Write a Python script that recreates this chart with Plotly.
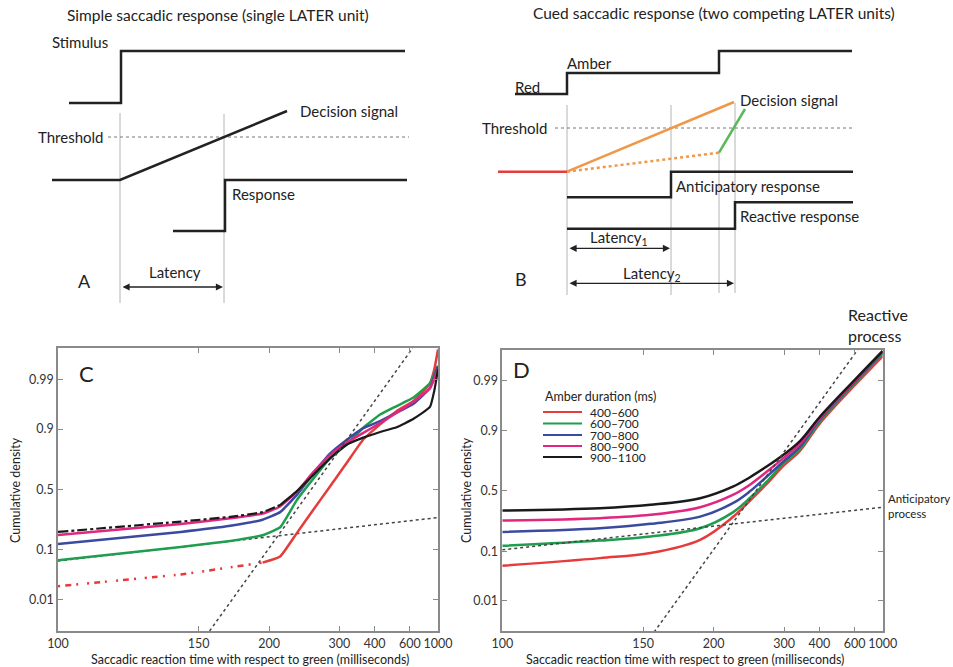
import plotly.graph_objects as go
from statistics import NormalDist

_nd = NormalDist()


def probit(ps):
    return [_nd.inv_cdf(p) for p in ps]


def recip(ts):
    return [-1.0 / t for t in ts]


W, H = 953, 667
FONT = "Lato"
INK = "#222222"

# ---------------------------------------------------------------- data
SERIES = ["400–600", "600–700", "700–800", "800–900", "900–1100"]
COLORS = ["#e53b3b", "#1f9e4f", "#3a4a9e", "#e0267f", "#1a1a1a"]

X_TICKS = [100, 150, 200, 300, 400, 600, 1000]
Y_TICKS = [0.01, 0.1, 0.5, 0.9, 0.99]

# Panel C: observed cumulative latency distributions
C_T = [100, 141, 169, 194, 211, 230, 253, 281, 316, 361, 422, 505, 633, 840, 920, 1000]
C_RED = [0.0202, 0.0359, 0.0495, 0.0606, 0.0778, 0.1762, 0.3336, 0.5259, 0.7123, 0.8554,
         0.9162, 0.9515, 0.9699, 0.9878, 0.9946, 0.9985]
C_GREEN = [0.0668, 0.1112, 0.1379, 0.1660, 0.2119, 0.4090, 0.5910, 0.7454, 0.8289, 0.9049,
           0.9441, 0.9616, 0.9744, 0.9878, 0.9929, 0.9956]
C_BLUE = [0.1238, 0.1841, 0.2206, 0.2611, 0.3156, 0.4522, 0.6331, 0.7764, 0.8531, 0.9032,
          0.9265, 0.9484, 0.9656, 0.9842, 0.9918, 0.9956]
C_MAGENTA = [0.1673, 0.2327, 0.2709, 0.3050, 0.3594, 0.4801, 0.6443, 0.7673, 0.8389, 0.8849,
             0.9207, 0.9484, 0.9686, 0.9842, 0.9906, 0.9946]
C_BLACK = [0.1841, 0.2483, 0.2810, 0.3156, 0.3707, 0.4840, 0.6217, 0.7454, 0.8289, 0.8643,
           0.8888, 0.9066, 0.9332, 0.9599, 0.9821, 0.9946]
C_SERIES = [C_RED, C_GREEN, C_BLUE, C_MAGENTA, C_BLACK]

# Panel D: model predictions
D_T = [100, 130, 154, 188, 220, 241, 267, 298, 338, 400, 600, 1000]
D_RED = [0.0557, 0.0764, 0.0934, 0.149, 0.288, 0.413, 0.556, 0.698, 0.800, 0.9207, 0.9871, 0.99781]
D_GREEN = [0.121, 0.145, 0.166, 0.213, 0.323, 0.436, 0.575, 0.716, 0.811, 0.9265, 0.9884, 0.99813]
D_BLUE = [0.191, 0.213, 0.241, 0.291, 0.395, 0.492, 0.616, 0.730, 0.824, 0.9319, 0.9893, 0.99831]
D_MAGENTA = [0.263, 0.280, 0.304, 0.363, 0.464, 0.548, 0.655, 0.753, 0.839, 0.9357, 0.9898, 0.99841]
D_BLACK = [0.337, 0.355, 0.382, 0.436, 0.534, 0.610, 0.695, 0.775, 0.853, 0.9394, 0.9904, 0.99846]
D_SERIES = [D_RED, D_GREEN, D_BLUE, D_MAGENTA, D_BLACK]

# Asymptotes of the two LATER processes (end points)
C_REACTIVE_T, C_REACTIVE_P = [156, 625], [0.00135, 0.99865]
C_ANTICIP_T, C_ANTICIP_P = [100, 1000], [0.065, 0.276]
D_REACTIVE_T, D_REACTIVE_P = [156, 633], [0.00135, 0.99865]
D_ANTICIP_T, D_ANTICIP_P = [100, 1000], [0.105, 0.363]

# ---------------------------------------------------------------- schematic geometry (page frame)
A_STIM = ([69, 121, 121, 405], [103, 103, 51, 51])
A_DECISION = ([52, 120, 287], [180, 180, 111])
A_RESPONSE = ([173, 225, 225, 407], [231, 231, 180, 180])
A_THRESH = ([108, 409], [137, 137])
A_GUIDES = [(120, 113, 303), (224, 114, 303)]

B_LIGHTS = ([515, 567, 567, 719, 719, 852], [94, 94, 73, 73, 51, 51])
B_THRESH = ([555, 853], [128, 128])
B_BASE = ([498, 567], [171.7, 171.7])
B_ANT_RISE = ([567, 734], [171.7, 102])
B_ANT_SLOW = ([567, 719], [171.7, 152.7])
B_REA_RISE = ([719, 745], [152.7, 109])
B_ANT_RESP = ([567, 671, 671, 853], [197.3, 197.3, 171.7, 171.7])
B_REA_RESP = ([567, 735, 735, 853], [228.7, 228.7, 202.3, 202.3])
B_GUIDES = [(567, 105, 295), (671, 105, 295), (719, 153, 293), (735, 103, 293)]

fig = go.Figure()


def page_line(xs, ys, color=INK, width=2.5, dash="solid"):
    fig.add_trace(go.Scatter(x=xs, y=ys, mode="lines", xaxis="x3", yaxis="y3",
                             line=dict(color=color, width=width, dash=dash),
                             hoverinfo="skip", showlegend=False))


# ---------------- panel A
for gx, g0, g1 in A_GUIDES:
    page_line([gx, gx], [g0, g1], color="#b4b4b4", width=1)
page_line(*A_THRESH, color="#777777", width=1, dash="dot")
page_line(*A_STIM)
page_line(*A_DECISION)
page_line(*A_RESPONSE)

# ---------------- panel B
for gx, g0, g1 in B_GUIDES:
    page_line([gx, gx], [g0, g1], color="#b4b4b4", width=1)
page_line(*B_THRESH, color="#777777", width=1, dash="dot")
page_line(*B_LIGHTS)
page_line(*B_ANT_SLOW, color="#f0984a", width=2.5, dash="dot")
page_line(*B_ANT_RISE, color="#f0984a", width=2.5)
page_line(*B_REA_RISE, color="#5cb85c", width=2.5)
page_line(*B_BASE, color="#e53b3b", width=2.5)
page_line(*B_ANT_RESP)
page_line(*B_REA_RESP)


# ---------------- panels C and D
def data_line(ts, ps, axes, color, width=2.5, dash="solid", shape="spline", smoothing=0.6):
    fig.add_trace(go.Scatter(x=recip(ts), y=probit(ps), mode="lines",
                             xaxis=axes[0], yaxis=axes[1],
                             line=dict(color=color, width=width, dash=dash, shape=shape,
                                       smoothing=smoothing),
                             hoverinfo="skip", showlegend=False))


C_AX, D_AX = ("x", "y"), ("x2", "y2")

# Panel C: early (anticipatory) parts of the red and black distributions drawn broken
red_split = C_T.index(194)
black_split = C_T.index(211)
data_line(C_ANTICIP_T, C_ANTICIP_P, C_AX, "#444444", width=1.5, dash="dot", shape="linear")
data_line(C_T[:red_split + 1], C_RED[:red_split + 1], C_AX, COLORS[0],
          dash="2px,5px,6px,5px,2px,9px", smoothing=0.4)
data_line(C_T[red_split:], C_RED[red_split:], C_AX, COLORS[0], smoothing=0.4)
data_line(C_T, C_GREEN, C_AX, COLORS[1], smoothing=0.4)
data_line(C_T, C_BLUE, C_AX, COLORS[2], smoothing=0.4)
data_line(C_T, C_MAGENTA, C_AX, COLORS[3], smoothing=0.4)
data_line(C_T[:black_split + 1], C_BLACK[:black_split + 1], C_AX, COLORS[4], width=2.2,
          dash="10px,3px,3px,3px", smoothing=0.4)
data_line(C_T[black_split:], C_BLACK[black_split:], C_AX, COLORS[4], width=2.2, smoothing=0.4)
data_line(C_REACTIVE_T, C_REACTIVE_P, C_AX, "#444444", width=1.5, dash="dot", shape="linear")

for i in range(len(SERIES)):
    data_line(D_T, D_SERIES[i], D_AX, COLORS[i], smoothing=1.0)
data_line(D_REACTIVE_T, D_REACTIVE_P, D_AX, "#444444", width=1.5, dash="dot", shape="linear")
data_line(D_ANTICIP_T, D_ANTICIP_P, D_AX, "#444444", width=1.5, dash="dot", shape="linear")


def xdom(x0, x1):
    return [x0 / W, x1 / W]


def ydom(top, bottom):
    return [1 - bottom / H, 1 - top / H]


axis_common = dict(showline=True, linecolor="#8a8a8a", linewidth=1.5, mirror="ticks",
                   ticks="inside", ticklen=5, tickcolor="#8a8a8a", tickwidth=1,
                   showgrid=False, zeroline=False, automargin=False, tickangle=0,
                   tickfont=dict(family=FONT, size=12.5, color="#333333"))

xr = [-1.0 / X_TICKS[0], -1.0 / X_TICKS[-1]]
xtick_vals = recip(X_TICKS)
xtick_text = [str(t) for t in X_TICKS]
ytick_vals = probit(Y_TICKS)
ytick_text = [str(p) for p in Y_TICKS]

fig.update_layout(
    template="none",
    width=W, height=H, margin=dict(l=0, r=0, t=0, b=0, pad=0, autoexpand=False),
    paper_bgcolor="white", plot_bgcolor="rgba(0,0,0,0)",
    xaxis=dict(domain=xdom(58, 438), range=xr, tickvals=xtick_vals, ticktext=xtick_text,
               anchor="y", **axis_common),
    yaxis=dict(domain=ydom(348, 631), range=[-3, 3], tickvals=ytick_vals,
               ticktext=ytick_text, anchor="x", **axis_common),
    xaxis2=dict(domain=xdom(502.3, 882.7), range=xr, tickvals=xtick_vals,
                ticktext=xtick_text, anchor="y2", **axis_common),
    yaxis2=dict(domain=ydom(350, 631.3), range=[-2.98, 2.98], tickvals=ytick_vals,
                ticktext=ytick_text, anchor="x2", **axis_common),
    xaxis3=dict(domain=[0, 1], range=[0, W], visible=False, anchor="y3", automargin=False),
    yaxis3=dict(domain=[0, 1], range=[H, 0], visible=False, anchor="x3", automargin=False),
)

annotations = []


def text(x, y, s, size=15, xanchor="left", yanchor="middle", angle=0, color=INK):
    annotations.append(dict(x=x, y=y, xref="x3", yref="y3", text=s, showarrow=False,
                            xanchor=xanchor, yanchor=yanchor, textangle=angle,
                            align=xanchor if xanchor != "center" else "center",
                            font=dict(family=FONT, size=size, color=color)))


def arrow(x0, x1, y):
    annotations.append(dict(x=x1, y=y, ax=x0, ay=y, xref="x3", yref="y3", axref="x3",
                            ayref="y3", text="", showarrow=True, arrowhead=2,
                            arrowside="end+start", arrowsize=1.1, arrowwidth=1.3,
                            arrowcolor=INK))


# panel A labels
text(218, 15, "Simple saccadic response (single LATER unit)", size=15.5, xanchor="center")
text(50, 42, "Stimulus")
text(105, 137, "Threshold", xanchor="right")
text(298, 111, "Decision signal")
text(230, 194, "Response")
text(84, 281, "A", size=18, xanchor="center")
text(175, 272, "Latency", xanchor="center")
arrow(121, 223, 287)

# panel B labels
text(713.7, 13, "Cued saccadic response (two competing LATER units)", size=15.5,
     xanchor="center")
text(565, 63, "Amber")
text(513, 87, "Red")
text(480, 128, "Threshold")
text(738, 100, "Decision signal")
text(674, 186, "Anticipatory response")
text(738, 216, "Reactive response")
text(619, 238, "Latency<sub>1</sub>", xanchor="center")
text(652, 274, "Latency<sub>2</sub>", xanchor="center")
text(521, 279, "B", size=18, xanchor="center")
arrow(568, 670, 248.3)
arrow(568, 734, 283.3)

# panels C and D labels
text(86, 373, "C", size=22, xanchor="center")
text(521, 369, "D", size=22, xanchor="center")
text(15, 490, "Cumulative density", size=12.5, xanchor="center", angle=-90)
text(466, 490, "Cumulative density", size=12.5, xanchor="center", angle=-90)
text(250, 659, "Saccadic reaction time with respect to green (milliseconds)", size=12.5,
     xanchor="center")
text(685, 659, "Saccadic reaction time with respect to green (milliseconds)", size=12.5,
     xanchor="center")
text(846, 325, "Reactive<br>process", size=16)
text(886, 506, "Anticipatory<br>process", size=11.5)

# legend for the amber-duration series
text(542.7, 396.7, "Amber duration (ms)", size=12.5)
LEG_Y = [412, 423.5, 435, 446, 457]
shapes = []
for name, col, ly in zip(SERIES, COLORS, LEG_Y):
    shapes.append(dict(type="line", xref="x3", yref="y3", x0=543, x1=582, y0=ly, y1=ly,
                       line=dict(color=col, width=1.8)))
    text(587.7, ly, name, size=12)

fig.update_layout(annotations=annotations, shapes=shapes)
fig.write_html("out.html")
